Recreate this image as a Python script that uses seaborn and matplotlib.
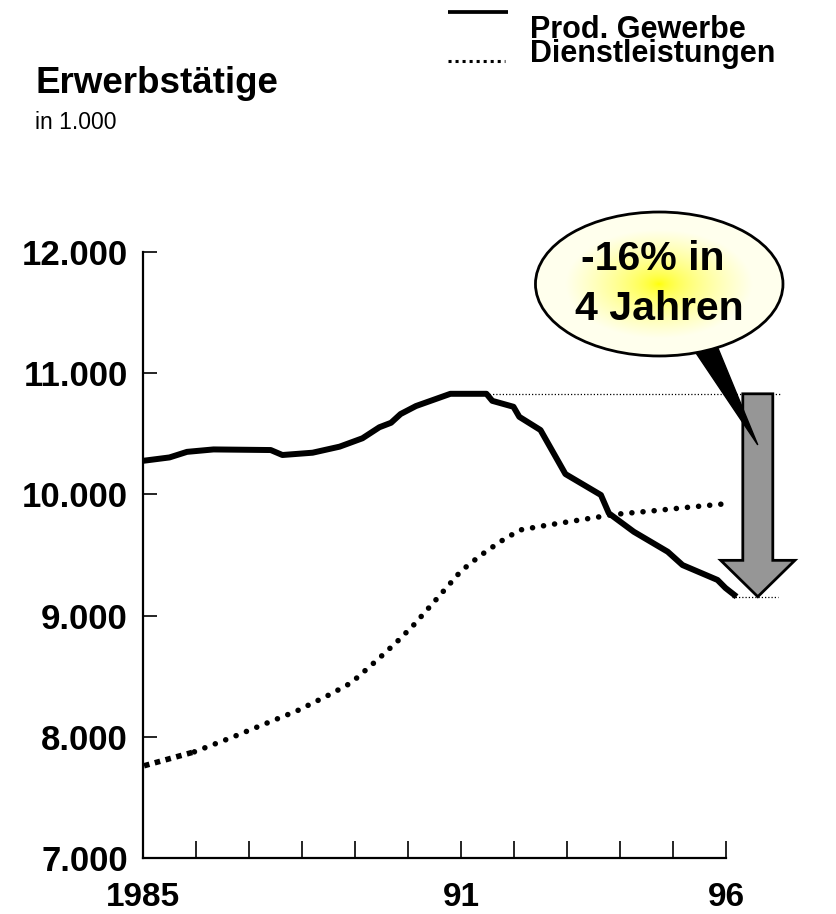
import numpy as np
import pandas as pd
import matplotlib
matplotlib.use("Agg")
import matplotlib.pyplot as plt
import seaborn as sns
from matplotlib.patches import Ellipse, FancyArrow, Polygon
from matplotlib.lines import Line2D

# Erwerbstaetige in 1.000
prod_years = [1985.0, 1985.5, 1985.83, 1986.33, 1987.41, 1987.63, 1988.2, 1988.71,
              1989.14, 1989.46, 1989.68, 1989.86, 1990.15, 1990.8, 1991.48, 1991.59,
              1991.99, 1992.1, 1992.5, 1992.97, 1993.64, 1993.79, 1994.26, 1994.9,
              1995.18, 1995.84, 1995.99, 1996.2]
prod_values = [10277, 10305, 10351, 10371, 10366, 10325, 10344, 10394,
               10463, 10554, 10591, 10663, 10729, 10830, 10830, 10772,
               10723, 10640, 10531, 10168, 9995, 9844, 9692, 9527,
               9417, 9294, 9228, 9156]

dienst_years = [1985.02, 1985.97, 1986.66, 1987.28, 1987.91, 1988.53, 1988.93, 1989.44,
                1989.78, 1990.1, 1990.55, 1991.0, 1991.36, 1991.74, 1992.11, 1992.57,
                1993.24, 1993.9, 1994.59, 1995.27, 1995.95]
dienst_values = [7761, 7876, 7992, 8103, 8215, 8350, 8446, 8642,
                 8779, 8919, 9142, 9368, 9494, 9610, 9706, 9742,
                 9789, 9835, 9863, 9893, 9921]

y_ticks = [7000, 8000, 9000, 10000, 11000, 12000]
y_labels = ["7.000", "8.000", "9.000", "10.000", "11.000", "12.000"]
x_ticks = list(range(1985, 1997))
x_labels = {1985: "1985", 1991: "91", 1996: "96"}

series_names = ["Prod. Gewerbe", "Dienstleistungen"]

sns.set_theme(style="white")
plt.rcParams["font.family"] = ["Liberation Sans", "DejaVu Sans"]
plt.rcParams["font.weight"] = "bold"
plt.rcParams["text.color"] = "black"
plt.rcParams["axes.labelcolor"] = "black"
plt.rcParams["xtick.color"] = "black"
plt.rcParams["ytick.color"] = "black"

W, H = 836, 914
fig = plt.figure(figsize=(W / 100, H / 100), dpi=100)
# axes: left edge at 143 px, bottom at 858 px (from top)
ax = fig.add_axes([143 / W, (H - 858) / H, (800 - 143) / W, (858 - 200) / H])

prod = pd.DataFrame({"Jahr": prod_years, "Wert": prod_values})
dienst = pd.DataFrame({"Jahr": dienst_years, "Wert": dienst_values})

sns.lineplot(data=prod, x="Jahr", y="Wert", ax=ax, color="black", lw=4.3,
             solid_joinstyle="round", solid_capstyle="butt", zorder=3)
first = dienst[dienst["Jahr"] <= 1986]
rest = dienst[dienst["Jahr"] >= 1985.9]
sns.lineplot(data=first, x="Jahr", y="Wert", ax=ax, color="black", lw=4.0,
             linestyle=(0, (1.0, 1.0)), dash_capstyle="butt", zorder=3)
sns.lineplot(data=rest, x="Jahr", y="Wert", ax=ax, color="black", lw=4.0,
             linestyle=(0, (0.01, 2.0)), dash_capstyle="round", zorder=3)

peak = max(prod_values)
end = prod_values[-1]
peak_x = prod_years[len(prod_values) - 1 - prod_values[::-1].index(peak)]

# thin dotted guide lines
ax.hlines(peak, peak_x, 1997.02, colors="black", lw=0.9, linestyles=(0, (1, 1.6)), zorder=2)
ax.hlines(end, 1996.11, 1996.98, colors="black", lw=0.9, linestyles=(0, (1, 1.6)), zorder=2)

# big grey arrow
arrow = FancyArrow(1996.6, peak, 0, end - peak, width=0.566, head_width=1.40,
                   head_length=300, length_includes_head=True,
                   fc="#969696", ec="black", lw=2, zorder=3, clip_on=False)
ax.add_patch(arrow)

# speech bubble
cx, cy, ew, eh = 1994.74, 11736, 4.67, 1188
wedge = Polygon([(1995.27, 11274), (1995.76, 11300), (1996.6, 10408)],
                closed=True, fc="black", ec="black", lw=1, zorder=4)
ax.add_patch(wedge)
ell_fill = Ellipse((cx, cy), ew, eh, fc="none", ec="none", zorder=5)
ax.add_patch(ell_fill)
gx, gy = np.meshgrid(np.linspace(-1, 1, 300), np.linspace(-1, 1, 300))
r = np.clip(np.sqrt(gx ** 2 + gy ** 2), 0, 1)
grad = np.zeros((300, 300, 3))
grad[..., 0] = 1.0
grad[..., 1] = 1.0
grad[..., 2] = np.clip(r ** 0.6 * 1.1, 0, 0.93)
im = ax.imshow(grad, extent=[cx - ew / 2, cx + ew / 2, cy - eh / 2, cy + eh / 2],
               aspect="auto", origin="lower", zorder=5, interpolation="bilinear")
im.set_clip_path(ell_fill)
ax.add_patch(Ellipse((cx, cy), ew, eh, fc="none", ec="black", lw=2, zorder=6))
ax.text(1994.62, 11851, "-16% in", ha="center", va="baseline", fontsize=29.5,
        fontweight="bold", zorder=7)
ax.text(1994.74, 11439, "4 Jahren", ha="center", va="baseline", fontsize=29.5,
        fontweight="bold", zorder=7)

ax.set_xlim(1985, 1985 + (800 - 143) / 53.0)
ax.set_ylim(7000, 7000 + (858 - 200) / 121.2 * 1000)
ax.set_xlabel("")
ax.set_ylabel("")

ax.spines["top"].set_visible(False)
ax.spines["right"].set_visible(False)
ax.spines["left"].set_bounds(7000, 12000)
ax.spines["bottom"].set_bounds(1985, 1996)
for s in ["left", "bottom"]:
    ax.spines[s].set_color("black")
    ax.spines[s].set_linewidth(1.6)

ax.set_yticks(y_ticks)
ax.set_yticklabels(y_labels)
ax.set_xticks(x_ticks)
ax.set_xticklabels([x_labels.get(t, "") for t in x_ticks])
ax.tick_params(axis="y", direction="in", length=10, width=1.2, colors="black",
               labelsize=25, pad=11, left=True)
ax.tick_params(axis="x", direction="in", length=12, width=1.2, colors="black",
               labelsize=24, pad=17, bottom=True)
for lab in ax.get_xticklabels() + ax.get_yticklabels():
    lab.set_fontweight("bold")

# titles
fig.text(35 / W, (H - 93) / H, "Erwerbstätige", fontsize=26.5, fontweight="bold",
         ha="left", va="baseline")
fig.text(35 / W, (H - 129) / H, "in 1.000", fontsize=16.5, fontweight="normal",
         ha="left", va="baseline")

# legend drawn by hand
fig.add_artist(Line2D([448 / W, 508 / W], [(H - 11.5) / H] * 2, color="black", lw=2.7,
                      solid_capstyle="butt"))
fig.add_artist(Line2D([448 / W, 505 / W], [(H - 61) / H] * 2, color="black", lw=2.2,
                      linestyle=(0, (1, 1.3)), dash_capstyle="butt"))
fig.text(530 / W, (H - 38) / H, series_names[0], fontsize=22, fontweight="bold",
         ha="left", va="baseline")
fig.text(530 / W, (H - 62) / H, series_names[1], fontsize=22, fontweight="bold",
         ha="left", va="baseline")

fig.savefig("out.png", dpi=100)
